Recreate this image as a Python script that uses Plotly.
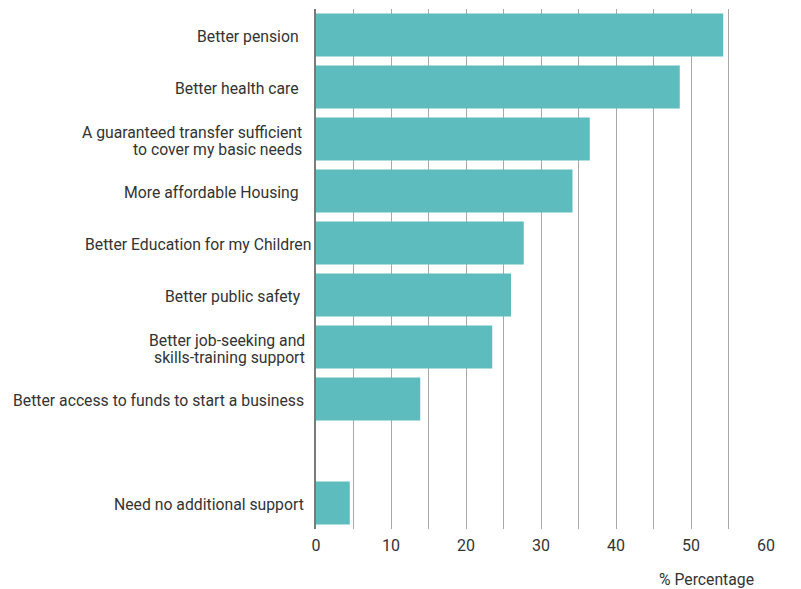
import plotly.graph_objects as go

categories = [
    "Better pension",
    "Better health care",
    "A guaranteed transfer sufficient<br>to cover my basic needs",
    "More affordable Housing",
    "Better Education for my Children",
    "Better public safety",
    "Better job-seeking and<br>skills-training support",
    "Better access to funds to start a business",
    " ",
    "Need no additional support",
]
values = [54.3, 48.5, 36.5, 34.2, 27.7, 26.0, 23.5, 13.9, None, 4.5]
x_ticks = [0, 10, 20, 30, 40, 50, 60]

# gap (px) between each label's right edge and the axis line, as in the reference
label_gap = [15, 15, 12, 15, 3, 13, 9, 10, 10, 10]

fig = go.Figure()
fig.add_trace(go.Bar(
    y=categories, x=values, orientation="h",
    marker=dict(color="#5dbcbd", line=dict(width=0)),
    hoverinfo="x+y",
))

annotations = []
for c, g in zip(categories, label_gap):
    lines = c.split("<br>")
    n = len(lines)
    for i, line in enumerate(lines):
        if not line.strip():
            continue
        annotations.append(dict(
            text=line, x=0, xref="paper", xanchor="right", xshift=-g,
            y=c, yref="y", yanchor="middle", yshift=((n - 1) / 2 - i) * 17 - 1.5,
            showarrow=False, font=dict(size=15.75, color="#333333"),
        ))
annotations.append(dict(
    text="% Percentage", x=0.978, xref="paper", xanchor="right",
    y=-0.098, yref="paper", yanchor="middle", showarrow=False,
    font=dict(size=15.75, color="#333333"),
))

fig.update_layout(
    width=801, height=589,
    margin=dict(l=316, r=35, t=9, b=60),
    paper_bgcolor="white", plot_bgcolor="white",
    font=dict(family="Roboto, sans-serif", size=16, color="#333333"),
    bargap=0.17,
    showlegend=False,
    xaxis=dict(
        range=[0, 60], tickvals=x_ticks, showgrid=True,
        gridcolor="#a8a8a8", gridwidth=1,
        minor=dict(dtick=5, showgrid=True, gridcolor="#a8a8a8", gridwidth=1),
        zeroline=False, showline=False, ticks="",
        ticklabelstandoff=5, automargin=False,
        tickfont=dict(size=16, color="#333333"),
        fixedrange=True,
    ),
    yaxis=dict(
        type="category", categoryorder="array", categoryarray=categories,
        autorange="reversed", showgrid=False, zeroline=False,
        showline=True, linecolor="#7a7a7a", linewidth=2,
        ticks="", showticklabels=False, automargin=False,
    ),
    annotations=annotations,
)

fig.write_html("out.html", config={"displayModeBar": False},
               post_script="document.body.style.margin='0';")
